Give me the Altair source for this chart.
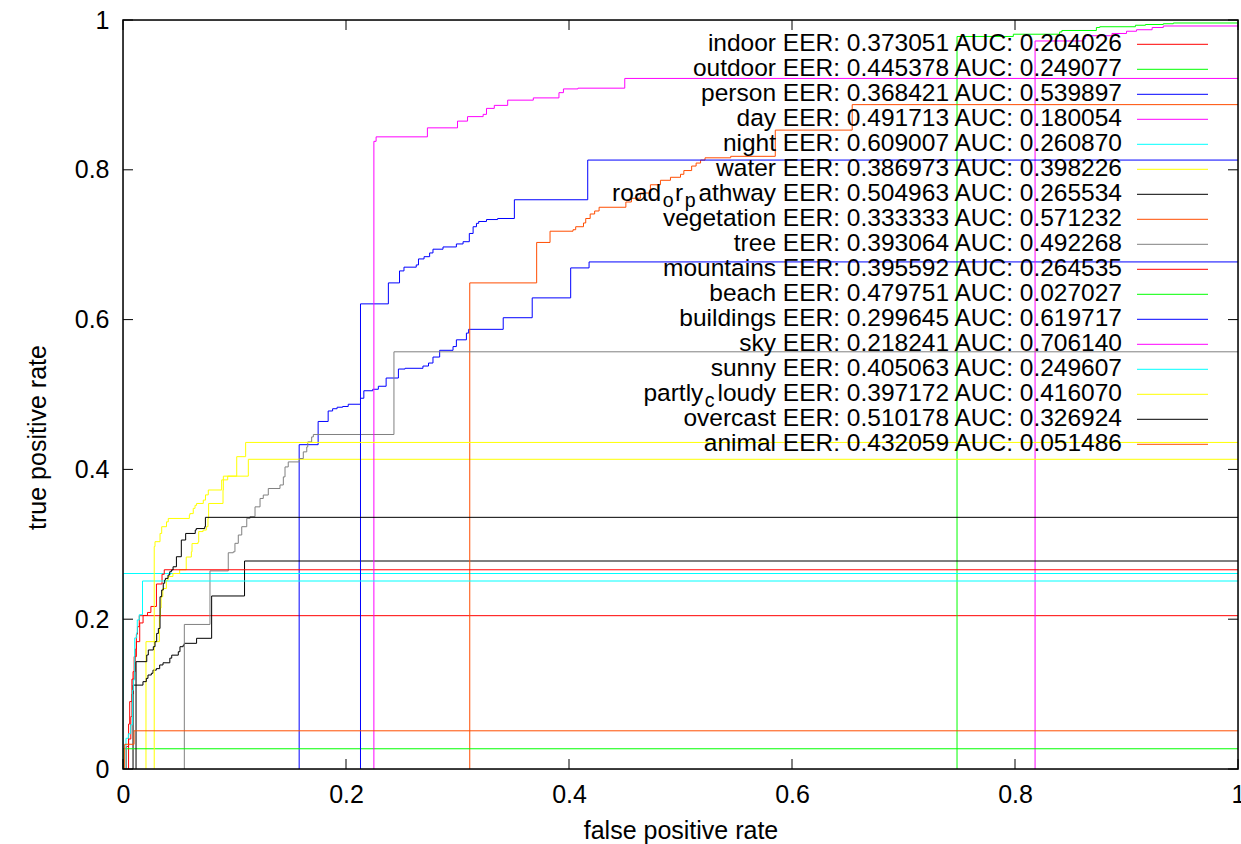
import altair as alt
import pandas as pd

# ---- plot geometry / style -------------------------------------------------
W, H = 1115, 749
FONT = "Liberation Sans"
FS = 25          # axis labels and titles
KEY_FS = 24.5    # key rows

# ---- series names, legend statistics, line colours --------------------------
NAMES = ["indoor", "outdoor", "person", "day", "night", "water",
         "road_or_pathway", "vegetation", "tree", "mountains", "beach",
         "buildings", "sky", "sunny", "partly_cloudy", "overcast", "animal"]
EER = ["0.373051", "0.445378", "0.368421", "0.491713", "0.609007", "0.386973",
       "0.504963", "0.333333", "0.393064", "0.395592", "0.479751", "0.299645",
       "0.218241", "0.405063", "0.397172", "0.510178", "0.432059"]
AUC = ["0.204026", "0.249077", "0.539897", "0.180054", "0.260870", "0.398226",
       "0.265534", "0.571232", "0.492268", "0.264535", "0.027027", "0.619717",
       "0.706140", "0.249607", "0.416070", "0.326924", "0.051486"]
COLORS = ["#ff0000", "#00ff00", "#0000ff", "#ff00ff", "#00ffff", "#ffff00",
          "#000000", "#ff4d00", "#808080", "#ff0000", "#00ff00", "#0000ff",
          "#ff00ff", "#00ffff", "#ffff00", "#000000", "#ff4d00"]

# ---- ROC staircases: (fpr, tpr) corners, level holds until next fpr --------
INDOOR_FPR = [0.005, 0.005, 0.007, 0.008, 0.009, 0.011, 0.012, 0.013, 0.0146, 1.0]
INDOOR_TPR = [0.0, 0.04, 0.07, 0.10, 0.13, 0.16, 0.18, 0.19, 0.2047, 0.2047]

OUTDOOR_FPR = [0.748, 0.748, 0.7985, 0.84, 0.842, 0.873, 0.876, 0.908, 0.917, 0.933, 0.942, 1.0]
OUTDOOR_TPR = [0.0, 0.978, 0.981, 0.984, 0.986, 0.990, 0.991, 0.993, 0.994, 0.995, 0.996, 0.996]

PERSON_FPR = [0.158, 0.158, 0.175, 0.184, 0.188, 0.192, 0.197, 0.202, 0.213, 0.216,
              0.224, 0.229, 0.236, 0.247, 0.253, 0.269, 0.274, 0.278, 0.284, 0.296,
              0.299, 0.308, 0.310, 0.341, 0.367, 0.4015, 0.418, 1.0]
PERSON_TPR = [0.0, 0.433, 0.464, 0.478, 0.481, 0.483, 0.484, 0.487, 0.495, 0.505,
              0.507, 0.511, 0.522, 0.534, 0.535, 0.538, 0.542, 0.550, 0.559, 0.564,
              0.573, 0.582, 0.587, 0.6025, 0.629, 0.669, 0.677, 0.677]

DAY_FPR = [0.818, 0.818, 0.861, 0.863, 0.887, 0.900, 0.909, 0.923, 0.933, 1.0]
DAY_TPR = [0.0, 0.972, 0.975, 0.979, 0.982, 0.985, 0.987, 0.990, 0.992, 0.992]

NIGHT_FPR = [0.0, 0.0, 1.0]
NIGHT_TPR = [0.0, 0.261, 0.261]

WATER_FPR = [0.0206, 0.0206, 0.0326, 0.0335, 0.0342, 0.0357, 0.0389, 0.0404, 0.0448,
             0.0508, 0.0567, 0.0613, 0.0619, 0.0673, 0.0679, 0.0718, 0.0748, 0.0762,
             0.0768, 0.0897, 0.0900, 0.0939, 0.1124, 1.0]
WATER_TPR = [0.0, 0.170, 0.203, 0.215, 0.230, 0.241, 0.252, 0.257, 0.261,
             0.266, 0.283, 0.290, 0.301, 0.303, 0.317, 0.319, 0.3235, 0.3345,
             0.3545, 0.3725, 0.386, 0.391, 0.4135, 0.4135]

ROAD_FPR = [0.009, 0.009, 0.0179, 0.0209, 0.0224, 0.0254, 0.0269, 0.0299, 0.0329,
            0.0359, 0.042, 0.0437, 0.0496, 0.0511, 0.054, 0.055, 0.066, 0.0795,
            0.109, 1.0]
ROAD_TPR = [0.0, 0.112, 0.1166, 0.121, 0.1255, 0.1278, 0.132, 0.134, 0.1389,
            0.1418, 0.148, 0.152, 0.1566, 0.1633, 0.1655, 0.1678, 0.1745, 0.231,
            0.2777, 0.2777]

VEGETATION_FPR = [0.311, 0.311, 0.371, 0.383, 0.4036, 0.406, 0.413, 0.415, 0.419,
                  0.423, 0.427, 0.451, 0.456, 0.464, 0.473, 0.482, 0.491, 0.500,
                  0.503, 0.510, 0.514, 0.518, 0.522, 0.545, 0.585, 0.654, 1.0]
VEGETATION_TPR = [0.0, 0.649, 0.703, 0.718, 0.720, 0.724, 0.729, 0.735, 0.741,
                  0.745, 0.750, 0.757, 0.762, 0.769, 0.780, 0.786, 0.790, 0.794,
                  0.799, 0.805, 0.809, 0.813, 0.816, 0.818, 0.853, 0.887, 0.887]

TREE_FPR = [0.055, 0.055, 0.078, 0.0944, 0.0989, 0.1004, 0.1034, 0.1065, 0.111,
            0.1139, 0.1184, 0.1229, 0.1258, 0.1303, 0.1408, 0.1438, 0.1453, 0.1482,
            0.1581, 0.1617, 0.1648, 0.1657, 0.1692, 0.1707, 0.243, 1.0]
TREE_TPR = [0.0, 0.193, 0.2645, 0.2887, 0.290, 0.3013, 0.3124, 0.3235, 0.3346,
            0.337, 0.350, 0.3612, 0.3658, 0.3745, 0.3792, 0.390, 0.4033, 0.410,
            0.4145, 0.4234, 0.430, 0.4367, 0.4434, 0.4466, 0.557, 0.557]

MOUNTAINS_FPR = [0.003, 0.003, 0.005, 0.006, 0.008, 0.010, 0.012, 0.015, 0.018,
                 0.022, 0.025, 0.030, 0.035, 0.037, 1.0]
MOUNTAINS_TPR = [0.0, 0.03, 0.06, 0.09, 0.12, 0.15, 0.17, 0.195, 0.205,
                 0.209, 0.217, 0.247, 0.260, 0.266, 0.266]

BEACH_FPR = [0.0, 0.0, 1.0]
BEACH_TPR = [0.0, 0.027, 0.027]

BUILDINGS_FPR = [0.213, 0.213, 0.238, 0.248, 0.252, 0.263, 0.265, 0.270, 0.275,
                 0.278, 0.287, 0.299, 0.305, 0.3106, 0.314, 0.317, 0.319, 0.326,
                 0.336, 0.351, 0.4168, 1.0]
BUILDINGS_TPR = [0.0, 0.621, 0.649, 0.665, 0.670, 0.673, 0.681, 0.684, 0.689,
                 0.694, 0.697, 0.701, 0.704, 0.715, 0.724, 0.7285, 0.731, 0.7336,
                 0.735, 0.760, 0.813, 0.813]

SKY_FPR = [0.225, 0.225, 0.227, 0.273, 0.300, 0.309, 0.323, 0.326, 0.333, 0.345,
           0.368, 0.391, 0.395, 0.408, 0.450, 1.0]
SKY_TPR = [0.0, 0.838, 0.844, 0.856, 0.865, 0.871, 0.874, 0.882, 0.886, 0.893,
           0.896, 0.903, 0.908, 0.909, 0.922, 0.922]

SUNNY_FPR = [0.0027, 0.0027, 0.0048, 0.0069, 0.0084, 0.0093, 0.0105, 0.0123,
             0.0128, 0.0146, 0.0175, 1.0]
SUNNY_TPR = [0.0, 0.041, 0.047, 0.059, 0.105, 0.119, 0.175, 0.182,
             0.199, 0.206, 0.251, 0.251]

PARTLY_FPR = [0.028, 0.028, 0.0287, 0.0332, 0.0347, 0.039, 0.0406, 0.0595, 0.060,
              0.063, 0.0646, 0.066, 0.072, 0.074, 0.0765, 0.0885, 0.090, 0.102,
              0.110, 1.0]
PARTLY_TPR = [0.0, 0.297, 0.3035, 0.3145, 0.3235, 0.330, 0.3345, 0.339, 0.341,
              0.348, 0.352, 0.3545, 0.359, 0.366, 0.3725, 0.386, 0.391, 0.417,
              0.436, 0.436]

OVERCAST_FPR = [0.0117, 0.0117, 0.0213, 0.0227, 0.0272, 0.0287, 0.0302, 0.0317,
                0.0332, 0.0347, 0.0361, 0.0374, 0.038, 0.0404, 0.0419, 0.0434,
                0.0449, 0.0479, 0.0523, 0.0562, 0.0648, 0.0657, 0.0733, 0.0739, 1.0]
OVERCAST_TPR = [0.0, 0.1433, 0.1522, 0.1589, 0.1633, 0.170, 0.181, 0.1876,
                0.230, 0.239, 0.248, 0.2523, 0.2545, 0.259, 0.2634, 0.2657,
                0.270, 0.2834, 0.3057, 0.3145, 0.319, 0.321, 0.3235, 0.336, 0.336]

ANIMAL_FPR = [0.0015, 0.0015, 0.0099, 1.0]
ANIMAL_TPR = [0.0, 0.033, 0.051, 0.051]

FPRS = [INDOOR_FPR, OUTDOOR_FPR, PERSON_FPR, DAY_FPR, NIGHT_FPR, WATER_FPR,
        ROAD_FPR, VEGETATION_FPR, TREE_FPR, MOUNTAINS_FPR, BEACH_FPR,
        BUILDINGS_FPR, SKY_FPR, SUNNY_FPR, PARTLY_FPR, OVERCAST_FPR, ANIMAL_FPR]
TPRS = [INDOOR_TPR, OUTDOOR_TPR, PERSON_TPR, DAY_TPR, NIGHT_TPR, WATER_TPR,
        ROAD_TPR, VEGETATION_TPR, TREE_TPR, MOUNTAINS_TPR, BEACH_TPR,
        BUILDINGS_TPR, SKY_TPR, SUNNY_TPR, PARTLY_TPR, OVERCAST_TPR, ANIMAL_TPR]

TICKS = [0, 0.2, 0.4, 0.6, 0.8, 1.0]

# ---- long-form table for the curves -----------------------------------------
rows = []
for name, xs, ys in zip(NAMES, FPRS, TPRS):
    for i, (x, y) in enumerate(zip(xs, ys)):
        rows.append({"name": name, "idx": i, "fpr": x, "tpr": y})
curve_df = pd.DataFrame(rows)

# ---- key (label text right-aligned, sample line to its right) ---------------
# Liberation Sans advance widths (1/1000 em) for the characters in the key
ADV = {" ": 278, ".": 278, ":": 278, "A": 667, "C": 722, "E": 667, "R": 722,
       "U": 722, "a": 556, "b": 556, "c": 500, "d": 556, "e": 556, "g": 556,
       "h": 556, "i": 222, "l": 222, "m": 833, "n": 556, "o": 556, "p": 556,
       "r": 333, "s": 500, "t": 278, "u": 556, "v": 500, "w": 722, "y": 500}


def text_width(s, size):
    return sum(556 if c.isdigit() else ADV.get(c, 556) for c in s) * size / 1000.0


def split_enhanced(name):
    """'_x' turns the next character into a subscript."""
    parts, buf, i = [], "", 0
    while i < len(name):
        if name[i] == "_" and i + 1 < len(name):
            if buf:
                parts.append((buf, False))
                buf = ""
            parts.append((name[i + 1], True))
            i += 2
        else:
            buf += name[i]
            i += 1
    if buf:
        parts.append((buf, False))
    return parts


KEY_RIGHT = 999       # right edge of key text
KEY_TOP = 24.3        # first key row centre
KEY_STEP = 25         # row spacing
SUB_SCALE = 0.8
SUB_DROP = 7
SUB_GAP = 1.5

key_text, key_lines = [], []
for r, (name, e, a) in enumerate(zip(NAMES, EER, AUC)):
    row_y = KEY_TOP + r * KEY_STEP
    parts = split_enhanced(name)
    last_txt, last_sub = parts[-1]
    parts[-1] = (last_txt + f" EER: {e} AUC: {a}", last_sub)
    x = KEY_RIGHT
    for txt, sub in reversed(parts):
        size = KEY_FS * SUB_SCALE if sub else KEY_FS
        if sub:
            x -= SUB_GAP
        key_text.append({"txt": txt, "px": x, "py": row_y + (SUB_DROP if sub else 0),
                         "fs": size})
        x -= text_width(txt, size)
        if sub:
            x -= SUB_GAP
    key_lines.append({"name": name, "py": row_y})
key_text_df = pd.DataFrame(key_text)
key_line_df = pd.DataFrame(key_lines)

# ---- chart ---------------------------------------------------------------------
color = alt.Color("name:N", scale=alt.Scale(domain=NAMES, range=COLORS), legend=None)

x_axis = alt.Axis(values=TICKS, format="~g", ticks=False, domain=False, grid=False,
                  labelFont=FONT, labelFontSize=FS, labelColor="black",
                  labelPadding=13, labelFlush=False, labelOverlap=False,
                  labelBound=False,
                  title="false positive rate", titleFont=FONT, titleFontSize=FS,
                  titleFontWeight="normal", titleColor="black",
                  titleX=W / 2, titleY=61, titleBaseline="middle", titleAlign="center")
y_axis = alt.Axis(values=TICKS, format="~g", ticks=False, domain=False, grid=False,
                  labelFont=FONT, labelFontSize=FS, labelColor="black",
                  labelPadding=14, labelFlush=False, labelOverlap=False,
                  labelBound=False,
                  title="true positive rate", titleFont=FONT, titleFontSize=FS,
                  titleFontWeight="normal", titleColor="black", titleAngle=270,
                  titleX=-86, titleY=417, titleBaseline="middle", titleAlign="center")

curves = alt.Chart(curve_df).mark_line(
    interpolate="step-after", strokeWidth=1, clip=True
).encode(
    x=alt.X("fpr:Q", scale=alt.Scale(domain=[0, 1], nice=False, zero=False), axis=x_axis),
    y=alt.Y("tpr:Q", scale=alt.Scale(domain=[0, 1], nice=False, zero=False), axis=y_axis),
    color=color,
    detail="name:N",
    order="idx:Q",
)

tick_df = pd.DataFrame({"v": TICKS})
tick_len = 10
xt_bottom = alt.Chart(tick_df).mark_rule(color="black", strokeWidth=1).encode(
    x="v:Q", y=alt.value(H), y2=alt.value(H - tick_len))
xt_top = alt.Chart(tick_df).mark_rule(color="black", strokeWidth=1).encode(
    x="v:Q", y=alt.value(0), y2=alt.value(tick_len))
yt_left = alt.Chart(tick_df).mark_rule(color="black", strokeWidth=1).encode(
    y="v:Q", x=alt.value(0), x2=alt.value(tick_len))
yt_right = alt.Chart(tick_df).mark_rule(color="black", strokeWidth=1).encode(
    y="v:Q", x=alt.value(W), x2=alt.value(W - tick_len))

frame = alt.Chart(pd.DataFrame({"f": [0]})).mark_rect(
    filled=False, stroke="black", strokeWidth=1.5
).encode(x=alt.value(0), x2=alt.value(W), y=alt.value(0), y2=alt.value(H))

key_labels = alt.Chart(key_text_df).mark_text(
    align="right", baseline="middle", font=FONT, color="black"
).encode(
    x=alt.X("px:Q", scale=None, axis=None),
    y=alt.Y("py:Q", scale=None, axis=None),
    size=alt.Size("fs:Q", scale=None, legend=None),
    text="txt:N",
)

key_samples = alt.Chart(key_line_df).mark_rule(strokeWidth=1).encode(
    x=alt.value(1014), x2=alt.value(1085),
    y=alt.Y("py:Q", scale=None, axis=None),
    color=color,
)

chart = alt.layer(
    curves, xt_bottom, xt_top, yt_left, yt_right, key_labels, key_samples, frame
).properties(
    width=W, height=H,
    autosize=alt.AutoSizeParams(type="none"),
    padding={"left": 123, "top": 20, "right": 3, "bottom": 75},
).configure_view(stroke=None).configure(background="white")

chart.save("out.html", embed_options={"renderer": "svg", "actions": False})
